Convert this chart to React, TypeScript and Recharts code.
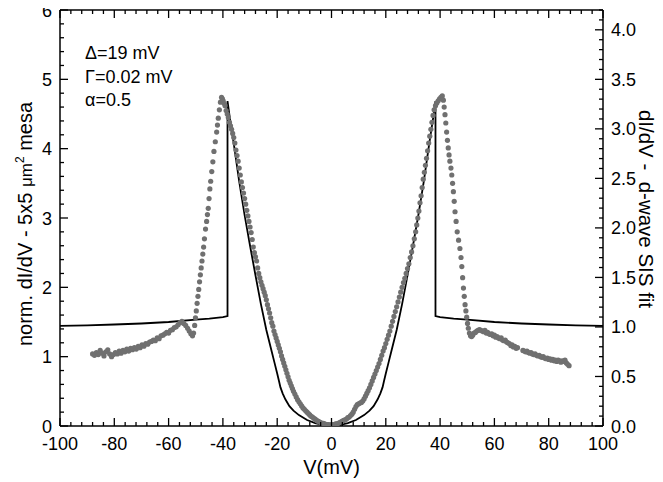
import React from 'react';
import { ComposedChart, Line, Scatter, XAxis, YAxis } from 'recharts';

// measured conductance, [V (mV), norm. dI/dV]
const measuredLeftTail: [number, number][] = [
  [-88.0, 1.04], [-87.3, 1.02], [-86.6, 1.06], [-85.9, 1.03], [-85.2, 1.09], [-84.5, 1.05],
  [-83.8, 1.01], [-83.1, 1.07], [-82.4, 1.1], [-81.7, 1.04], [-81.0, 1.0], [-80.3, 1.03],
  [-79.6, 1.06], [-78.9, 1.04], [-78.2, 1.08], [-77.5, 1.05], [-76.8, 1.09], [-76.1, 1.07],
  [-75.4, 1.11], [-74.7, 1.08], [-74.0, 1.12], [-73.3, 1.1], [-72.6, 1.13], [-71.9, 1.11],
  [-71.2, 1.15], [-70.5, 1.13], [-69.8, 1.17], [-69.1, 1.15], [-68.4, 1.19], [-67.7, 1.18],
  [-67.0, 1.21], [-66.3, 1.22], [-65.6, 1.24], [-64.9, 1.23], [-64.2, 1.27], [-63.5, 1.26],
  [-62.8, 1.3], [-62.1, 1.31], [-61.4, 1.33], [-60.7, 1.35], [-60.0, 1.34], [-59.3, 1.38],
  [-58.6, 1.39], [-57.9, 1.42], [-57.2, 1.43], [-56.5, 1.46], [-55.8, 1.49], [-55.1, 1.51],
  [-54.4, 1.48], [-53.7, 1.45], [-53.0, 1.41], [-52.4, 1.37], [-51.8, 1.33], [-51.2, 1.3],
];

const measuredLeftPeak: [number, number][] = [
  [-50.8, 1.34], [-50.4, 1.45], [-50.1, 1.56], [-49.8, 1.66], [-49.5, 1.77], [-49.2, 1.87],
  [-48.9, 1.97], [-48.6, 2.08], [-48.3, 2.18], [-48.0, 2.28], [-47.7, 2.38], [-47.4, 2.48],
  [-47.1, 2.58], [-46.8, 2.7], [-46.4, 2.84], [-46.0, 2.95], [-45.7, 3.05], [-45.4, 3.14],
  [-45.1, 3.28], [-44.8, 3.42], [-44.5, 3.53], [-44.1, 3.67], [-43.7, 3.81], [-43.3, 3.96],
  [-42.8, 4.1], [-42.3, 4.24], [-42.0, 4.34], [-41.7, 4.44], [-41.3, 4.56], [-40.9, 4.67],
  [-40.5, 4.74], [-40.2, 4.72], [-39.9, 4.69], [-39.5, 4.65], [-39.2, 4.62], [-38.8, 4.55],
  [-38.4, 4.5], [-38.0, 4.45], [-37.6, 4.38], [-37.2, 4.33], [-36.8, 4.28], [-36.4, 4.22],
  [-36.0, 4.16], [-35.6, 4.08], [-35.2, 3.98], [-34.8, 3.9], [-34.4, 3.82], [-34.0, 3.72],
  [-33.6, 3.62], [-33.2, 3.52], [-32.8, 3.44], [-32.4, 3.36], [-32.0, 3.28], [-31.6, 3.2],
  [-31.2, 3.11], [-30.8, 3.03], [-30.4, 2.95], [-30.0, 2.87], [-29.6, 2.79], [-29.2, 2.69],
  [-28.8, 2.58], [-28.4, 2.5], [-28.0, 2.44], [-27.6, 2.38], [-27.2, 2.28], [-26.8, 2.2],
];

const measuredCenter: [number, number][] = [
  [-26.4, 2.14], [-26.0, 2.08], [-25.6, 2.03], [-25.2, 1.98], [-24.8, 1.93], [-24.4, 1.88],
  [-24.0, 1.82], [-23.6, 1.75], [-23.2, 1.69], [-22.8, 1.63], [-22.4, 1.56], [-22.0, 1.49],
  [-21.6, 1.44], [-21.2, 1.37], [-20.8, 1.32], [-20.4, 1.27], [-20.0, 1.22], [-19.6, 1.17],
  [-19.2, 1.12], [-18.8, 1.07], [-18.4, 1.01], [-18.0, 0.96], [-17.6, 0.91], [-17.2, 0.86],
  [-16.8, 0.81], [-16.4, 0.76], [-16.0, 0.71], [-15.6, 0.66], [-15.2, 0.62], [-14.8, 0.58],
  [-14.4, 0.54], [-14.0, 0.5], [-13.5, 0.46], [-13.0, 0.42], [-12.5, 0.38], [-12.0, 0.35],
  [-11.5, 0.32], [-11.0, 0.29], [-10.5, 0.26], [-10.0, 0.24], [-9.5, 0.22], [-9.0, 0.2],
  [-8.5, 0.18], [-8.0, 0.16], [-7.5, 0.14], [-7.0, 0.13], [-6.5, 0.11], [-6.0, 0.1],
  [-5.5, 0.08], [-5.0, 0.07], [-4.5, 0.06], [-4.0, 0.05], [-3.5, 0.04], [-3.0, 0.04],
  [-2.5, 0.03], [-2.0, 0.02], [-1.5, 0.02], [-1.0, 0.02], [-0.5, 0.01], [0.0, 0.02],
  [0.5, 0.02], [1.0, 0.02], [1.5, 0.03], [2.0, 0.03], [2.5, 0.04], [3.0, 0.05],
  [3.5, 0.06], [4.0, 0.07], [4.5, 0.08], [5.0, 0.09], [5.5, 0.1], [6.0, 0.12],
  [6.5, 0.13], [7.0, 0.15], [7.5, 0.17], [8.0, 0.2], [8.5, 0.24], [9.0, 0.28],
  [9.5, 0.31], [10.0, 0.32], [10.5, 0.33], [11.0, 0.34], [11.5, 0.36], [12.0, 0.39],
  [12.5, 0.43], [13.0, 0.47], [13.5, 0.51], [14.0, 0.55], [14.5, 0.6], [15.0, 0.65],
  [15.5, 0.7], [16.0, 0.75], [16.5, 0.8], [17.0, 0.85], [17.5, 0.9], [18.0, 0.96],
  [18.5, 1.02], [19.0, 1.08], [19.5, 1.13], [20.0, 1.19], [20.5, 1.25], [21.0, 1.31],
  [21.5, 1.37], [22.0, 1.44], [22.5, 1.51], [23.0, 1.58], [23.5, 1.65], [24.0, 1.72],
  [24.5, 1.79], [25.0, 1.86], [25.5, 1.93], [26.0, 2.0], [26.5, 2.07], [27.0, 2.13],
];

const measuredRightPeak: [number, number][] = [
  [27.5, 2.2], [28.0, 2.27], [28.5, 2.34], [29.0, 2.43], [29.5, 2.51], [30.0, 2.6],
  [30.5, 2.7], [31.0, 2.8], [31.4, 2.9], [31.8, 3.0], [32.2, 3.1], [32.6, 3.22],
  [33.0, 3.32], [33.4, 3.44], [33.8, 3.56], [34.2, 3.66], [34.6, 3.76], [35.0, 3.86],
  [35.4, 3.97], [35.8, 4.08], [36.2, 4.18], [36.6, 4.28], [37.0, 4.38], [37.4, 4.48],
  [37.8, 4.56], [38.3, 4.62], [38.8, 4.66], [39.3, 4.69], [39.8, 4.72], [40.3, 4.74],
  [40.8, 4.76], [41.2, 4.7], [41.5, 4.6], [41.8, 4.49], [42.1, 4.37], [42.4, 4.24],
  [42.7, 4.12], [43.0, 4.01], [43.3, 3.91], [43.6, 3.82], [44.0, 3.72], [44.3, 3.62],
  [44.6, 3.5], [44.9, 3.38], [45.2, 3.24], [45.5, 3.09], [45.9, 2.95], [46.3, 2.8],
  [46.8, 2.68], [47.3, 2.56], [47.7, 2.43], [48.0, 2.3], [48.3, 2.14], [48.6, 1.99],
  [48.9, 1.87], [49.2, 1.75], [49.5, 1.66], [49.8, 1.57], [50.1, 1.48], [50.4, 1.41],
];

const measuredRightTail: [number, number][] = [
  [50.8, 1.34], [51.2, 1.3], [51.6, 1.29], [52.0, 1.31], [52.5, 1.34], [53.0, 1.35],
  [53.5, 1.37], [54.0, 1.38], [54.5, 1.39], [55.0, 1.38], [55.5, 1.37], [56.0, 1.36],
  [56.5, 1.38], [57.0, 1.34], [57.5, 1.35], [58.0, 1.33], [58.5, 1.32], [59.0, 1.33],
  [59.5, 1.3], [60.0, 1.31], [60.5, 1.28], [61.0, 1.29], [61.5, 1.27], [62.0, 1.26],
  [62.5, 1.27], [63.0, 1.24], [63.5, 1.23], [64.0, 1.24], [64.5, 1.21], [65.0, 1.2],
  [65.5, 1.19], [66.0, 1.16], [66.5, 1.17], [67.0, 1.14], [67.5, 1.15], [68.0, 1.12],
  [68.5, 1.13], [70.5, 1.09], [71.0, 1.08], [71.5, 1.07], [72.0, 1.08], [72.5, 1.06],
  [73.0, 1.05], [73.5, 1.06], [74.0, 1.04], [74.5, 1.03], [75.0, 1.04], [75.5, 1.02],
  [76.0, 1.01], [76.5, 1.02], [77.0, 1.0], [77.5, 0.99], [78.0, 1.0], [78.5, 0.98],
  [79.0, 0.97], [79.5, 0.98], [80.0, 0.96], [80.5, 0.97], [81.0, 0.95], [81.5, 0.96],
  [82.0, 0.94], [82.5, 0.95], [83.0, 0.93], [83.5, 0.95], [84.0, 0.94], [84.5, 0.92],
  [85.0, 0.94], [85.5, 0.93], [86.0, 0.95], [86.5, 0.91], [87.0, 0.89], [87.5, 0.87],
];

// d-wave SIS fit, [V (mV), dI/dV] on the right axis
const fitCurve: [number, number][] = [
  [-100, 1.01], [-90, 1.015], [-80, 1.025], [-70, 1.035], [-60, 1.05], [-50, 1.075],
  [-45, 1.085], [-40, 1.1], [-38.3, 1.11], [-38.3, 3.28], [-37.5, 3.12], [-36, 2.85],
  [-34, 2.47], [-32, 2.13], [-30, 1.82], [-28, 1.52], [-26, 1.23], [-24, 0.97],
  [-22, 0.75], [-21, 0.64], [-20, 0.53], [-19.3, 0.45], [-18.8, 0.39], [-18, 0.33],
  [-17, 0.27], [-15.5, 0.2], [-14, 0.155], [-12, 0.11], [-9, 0.06], [-6, 0.03],
  [-3, 0.01], [0, 0], [3, 0.01], [6, 0.03], [9, 0.06], [12, 0.11],
  [14, 0.155], [15.5, 0.2], [17, 0.27], [18, 0.33], [18.8, 0.39], [19.3, 0.45],
  [20, 0.53], [21, 0.64], [22, 0.75], [24, 0.97], [26, 1.23], [28, 1.52],
  [30, 1.82], [32, 2.13], [34, 2.47], [36, 2.85], [37.5, 3.12], [38.3, 3.28],
  [38.3, 1.11], [40, 1.1], [45, 1.085], [50, 1.075], [60, 1.05], [70, 1.035],
  [80, 1.025], [90, 1.015], [100, 1.01],
];

const range = (a: number, b: number, s: number) => {
  const out: number[] = [];
  for (let i = 0; a + i * s <= b + 1e-9; i++) out.push(+(a + i * s).toFixed(4));
  return out;
};

const xTicks = range(-100, 100, 4);
const leftTicks = range(0, 6, 0.2);
const rightTicks = range(0, 4.2, 0.1);

const measured = [
  ...measuredLeftTail,
  ...measuredLeftPeak,
  ...measuredCenter,
  ...measuredRightPeak,
  ...measuredRightTail,
].map(([v, g]) => ({ v, g }));
const fit = fitCurve.map(([v, r]) => ({ v, r }));

const FONT = '"Liberation Sans", Arial, Helvetica, sans-serif';
const isMult = (v: number, step: number) => Math.abs(v / step - Math.round(v / step)) < 1e-6;

const BottomTick = ({ x, y, payload }: any) => {
  const major = isMult(payload.value, 20);
  return (
    <g>
      <line x1={x} x2={x} y1={y} y2={y - (major ? 8 : 4)} stroke="#000" strokeWidth={1.3} />
      {major && (
        <text x={x} y={y + 24} textAnchor="middle" fontSize={18} fontFamily={FONT} fill="#000">
          {payload.value}
        </text>
      )}
    </g>
  );
};

const TopTick = ({ x, y, payload }: any) => {
  const major = isMult(payload.value, 20);
  return <line x1={x} x2={x} y1={y} y2={y + (major ? 8 : 4)} stroke="#000" strokeWidth={1.3} />;
};

const LeftTick = ({ x, y, payload }: any) => {
  const major = isMult(payload.value, 1);
  return (
    <g>
      <line x1={x} x2={x + (major ? 8 : 4)} y1={y} y2={y} stroke="#000" strokeWidth={1.3} />
      {major && (
        <text x={x - 8} y={y + 6.5} textAnchor="end" fontSize={18} fontFamily={FONT} fill="#000">
          {payload.value}
        </text>
      )}
    </g>
  );
};

const RightTick = ({ x, y, payload }: any) => {
  const major = isMult(payload.value, 0.5) && payload.value <= 4;
  return (
    <g>
      <line x1={x} x2={x - (major ? 8 : 4)} y1={y} y2={y} stroke="#000" strokeWidth={1.3} />
      {major && (
        <text x={x + 8} y={y + 6.5} textAnchor="start" fontSize={18} fontFamily={FONT} fill="#000">
          {payload.value.toFixed(1)}
        </text>
      )}
    </g>
  );
};

const Dot = ({ cx, cy }: any) => <circle cx={cx} cy={cy} r={2.6} fill="#707070" />;

export default function App() {
  return (
    <div style={{ marginLeft: -8, marginTop: -8, width: 663, height: 482 }}>
      <ComposedChart width={663} height={482} margin={{ top: 0, right: 0, bottom: 0, left: 0 }}>
        <XAxis
          xAxisId="bottom"
          dataKey="v"
          type="number"
          domain={[-100, 100]}
          ticks={xTicks}
          interval={0}
          height={56}
          tickSize={0}
          tickMargin={0}
          tickLine={false}
          tick={<BottomTick />}
          axisLine={{ stroke: '#000', strokeWidth: 1.5 }}
          allowDataOverflow
          label={({ viewBox }: any) => (
            <text x={viewBox.x + viewBox.width / 2} y={474} textAnchor="middle" fontSize={20} fontFamily={FONT} fill="#000">
              V(mV)
            </text>
          )}
        />
        <XAxis
          xAxisId="top"
          orientation="top"
          dataKey="v"
          type="number"
          domain={[-100, 100]}
          ticks={xTicks}
          interval={0}
          height={10}
          tickSize={0}
          tickMargin={0}
          tickLine={false}
          tick={<TopTick />}
          axisLine={{ stroke: '#000', strokeWidth: 1.5 }}
          allowDataOverflow
        />
        <YAxis
          yAxisId="left"
          dataKey="g"
          type="number"
          domain={[0, 6]}
          ticks={leftTicks}
          interval={0}
          width={60}
          tickSize={0}
          tickMargin={0}
          tickLine={false}
          tick={<LeftTick />}
          axisLine={{ stroke: '#000', strokeWidth: 1.5 }}
          allowDataOverflow
          label={() => (
            <text
              transform="translate(32,224) rotate(-90)"
              textAnchor="middle"
              fontSize={20}
              fontFamily={FONT}
              fill="#000"
            >
              norm. dI/dV - 5x5 <tspan fontSize={17}>μm</tspan>
              <tspan fontSize={12} dy={-8}>2</tspan>
              <tspan dy={8}> mesa</tspan>
            </text>
          )}
        />
        <YAxis
          yAxisId="right"
          orientation="right"
          dataKey="r"
          type="number"
          domain={[0, 4.2]}
          ticks={rightTicks}
          interval={0}
          width={60}
          tickSize={0}
          tickMargin={0}
          tickLine={false}
          tick={<RightTick />}
          axisLine={{ stroke: '#000', strokeWidth: 1.5 }}
          allowDataOverflow
          label={() => (
            <text
              transform="translate(639,209) rotate(90)"
              textAnchor="middle"
              fontSize={20.5}
              fontFamily={FONT}
              fill="#000"
              style={{ whiteSpace: 'pre' }}
            >
              {'dI/dV -  d-wave SIS fit'}
            </text>
          )}
        />
        <Scatter
          data={measured}
          dataKey="g"
          xAxisId="bottom"
          yAxisId="left"
          shape={<Dot />}
          isAnimationActive={false}
        />
        <Line
          data={fit}
          dataKey="r"
          xAxisId="bottom"
          yAxisId="right"
          type="linear"
          stroke="#000"
          strokeWidth={1.8}
          dot={false}
          activeDot={false}
          isAnimationActive={false}
        />
        <text x={85} y={59} fontSize={18} fontFamily={FONT} fill="#000">Δ=19 mV</text>
        <text x={85} y={83} fontSize={18} fontFamily={FONT} fill="#000">Γ=0.02 mV</text>
        <text x={85} y={106} fontSize={18} fontFamily={FONT} fill="#000">α=0.5</text>
      </ComposedChart>
    </div>
  );
}
